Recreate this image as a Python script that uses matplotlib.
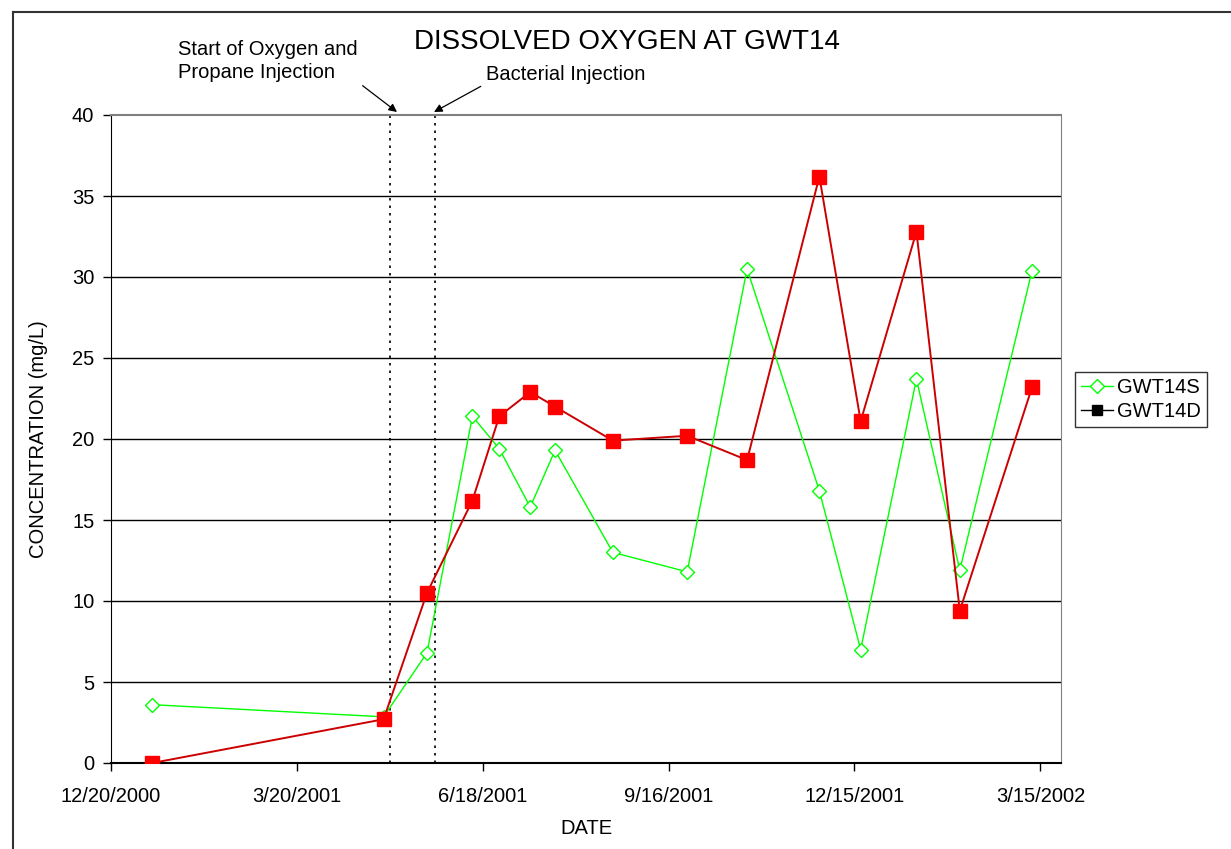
import numpy as np
import matplotlib
matplotlib.use("Agg")
import matplotlib.pyplot as plt
from matplotlib.lines import Line2D
import datetime as dt

# ---- data ----
dates = ["2001-01-09", "2001-05-01", "2001-05-22", "2001-06-13", "2001-06-26",
         "2001-07-11", "2001-07-23", "2001-08-20", "2001-09-25", "2001-10-24",
         "2001-11-28", "2001-12-18", "2002-01-14", "2002-02-04", "2002-03-11"]
gwt14s = [3.6, 2.85, 6.8, 21.4, 19.4, 15.8, 19.3, 13.0, 11.8, 30.5,
          16.8, 7.0, 23.7, 11.9, 30.4]
gwt14d = [0.0, 2.7, 10.5, 16.2, 21.4, 22.9, 22.0, 19.9, 20.2, 18.7,
          36.2, 21.1, 32.8, 9.4, 23.2]
event_dates = ["2001-05-04", "2001-05-26"]
event_labels = ["Start of Oxygen and\nPropane Injection", "Bacterial Injection"]
x_start = "2000-12-20"
x_end = "2002-03-25"
tick_step_days = 90
y_ticks = [0, 5, 10, 15, 20, 25, 30, 35, 40]

plt.rcParams['font.family'] = ['Liberation Sans', 'DejaVu Sans']

FS = 14.5
W, H = 1231, 849
fig = plt.figure(figsize=(W / 100, H / 100), dpi=100)
ax = fig.add_axes([111 / W, 1 - 763 / H, (1061 - 111) / W, (763 - 115) / H])

d = [np.datetime64(s) for s in dates]
ev = [np.datetime64(s) for s in event_dates]
x0 = np.datetime64(x_start)
x1 = np.datetime64(x_end)

# grid lines
for yv in y_ticks[1:-1]:
    ax.axhline(yv, color='black', lw=1.0, zorder=1)

ax.plot(d, gwt14s, color='#00ff00', lw=1.0, marker='D', markersize=7,
        markerfacecolor='white', markeredgecolor='#00ff00', markeredgewidth=1.0, zorder=3)
ax.plot(d, gwt14d, color='#cc0000', lw=1.4, marker='s', markersize=9.5,
        markerfacecolor='#ff0000', markeredgecolor='#ff0000', zorder=4)

for e in ev:
    ax.axvline(e, color='black', lw=1.2, ls=(0, (1.5, 3)), zorder=2)

ax.set_xlim(x0, x1)
ax.set_ylim(0, 40)
ax.set_yticks(y_ticks)
ticks = [x0 + np.timedelta64(tick_step_days * i, 'D') for i in range(6)]
ax.set_xticks(ticks)
ax.set_xticklabels([f"{t.astype(dt.date).month}/{t.astype(dt.date).day}/{t.astype(dt.date).year}" for t in ticks])
ax.tick_params(axis='both', labelsize=FS, direction='out', length=6, width=1.0, color='black')
ax.tick_params(axis='x', pad=11)
ax.tick_params(axis='y', pad=6)

ax.spines['left'].set_color('black')
ax.spines['bottom'].set_color('black')
ax.spines['bottom'].set_linewidth(1.5)
ax.spines['top'].set_color('#808080')
ax.spines['right'].set_color('#808080')
ax.spines['top'].set_linewidth(1.5)

ax.set_xlabel("DATE", fontsize=FS, labelpad=10)
ax.set_ylabel("CONCENTRATION (mg/L)", fontsize=FS, labelpad=17)

fig.text(627 / W, 1 - 42 / H, "DISSOLVED OXYGEN AT GWT14", ha='center', va='center', fontsize=20)

# annotations
ax.annotate(event_labels[0], xy=(397 / W, 1 - 112 / H), xycoords='figure fraction',
            xytext=(178 / W, 1 - 61 / H), textcoords='figure fraction',
            fontsize=FS, ha='left', va='center', linespacing=1.25,
            arrowprops=dict(arrowstyle='-|>', color='black', lw=0.9, shrinkA=2, shrinkB=0,
                            mutation_scale=12, relpos=(1.0, 0.0)))
ax.annotate(event_labels[1], xy=(434 / W, 1 - 112 / H), xycoords='figure fraction',
            xytext=(486 / W, 1 - 74 / H), textcoords='figure fraction',
            fontsize=FS, ha='left', va='center',
            arrowprops=dict(arrowstyle='-|>', color='black', lw=0.9, shrinkA=2, shrinkB=0,
                            mutation_scale=12, relpos=(0.0, 0.0)))

# legend
handles = [Line2D([], [], color='#00ff00', lw=1.0, marker='D', markersize=7,
                  markerfacecolor='white', markeredgecolor='#00ff00'),
           Line2D([], [], color='black', lw=1.0, marker='s', markersize=7,
                  markerfacecolor='black', markeredgecolor='black')]
leg = fig.legend(handles, ["GWT14S", "GWT14D"], loc='upper left',
                 bbox_to_anchor=(1075 / W, 1 - 372 / H), fontsize=FS,
                 frameon=True, fancybox=False, edgecolor='black', handlelength=1.6,
                 handletextpad=0.2, borderpad=0.3, labelspacing=0.25, borderaxespad=0)
leg.get_frame().set_linewidth(1.0)

# figure border (left and top)
fig.add_artist(Line2D([13 / W, 13 / W], [0, 1 - 12 / H], color='#333333', lw=1.5,
                      transform=fig.transFigure))
fig.add_artist(Line2D([13 / W, 1], [1 - 12 / H, 1 - 12 / H], color='#333333', lw=1.5,
                      transform=fig.transFigure))

fig.savefig("out.png", dpi=100)
